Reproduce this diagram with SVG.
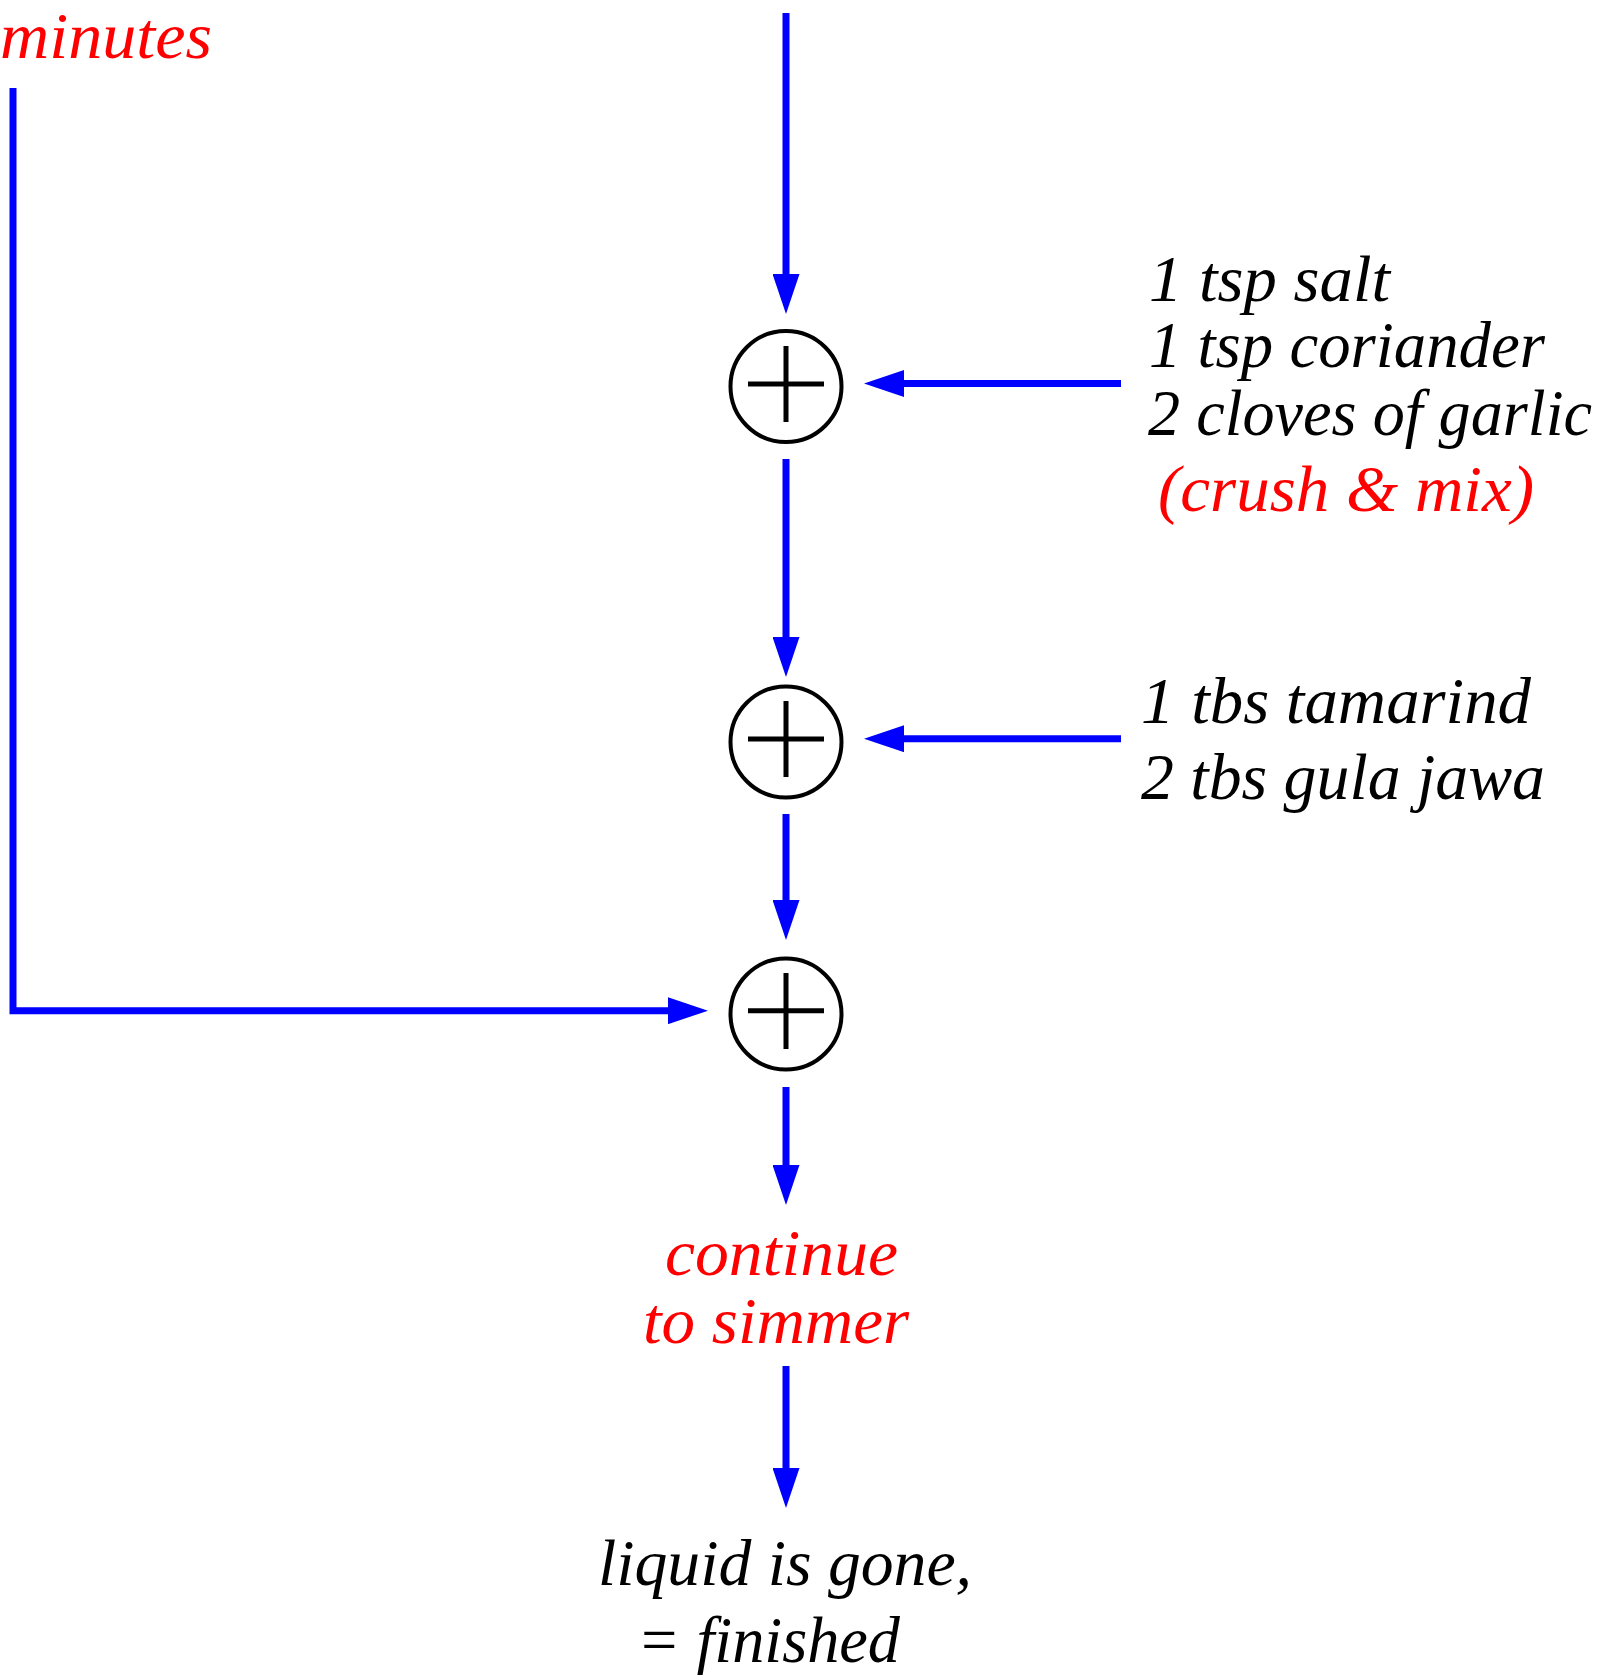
<svg xmlns="http://www.w3.org/2000/svg" width="1615" height="1675" viewBox="0 0 1615 1675">
<style>
.t{font-family:"Liberation Serif","Times New Roman",serif;font-style:italic;font-size:66px;fill:#000}
.r{fill:#ff0000}
.c{fill:none;stroke:#000;stroke-width:4}
.x{stroke:#000;stroke-width:5;fill:none}
.e{fill:none;stroke:#0000ff;stroke-width:7;stroke-linecap:butt;stroke-linejoin:miter}
</style>
<defs>
<marker id="ah" viewBox="0 0 40 27" refX="10" refY="13.5" markerWidth="40" markerHeight="27" markerUnits="userSpaceOnUse" orient="auto">
<path d="M0,0 L40,13.5 L0,27 z" fill="#0000ff"/>
</marker>
</defs>
<rect width="1615" height="1675" fill="#fff"/>
<g id="connectors">
<path class="e" d="M786,13 V284" marker-end="url(#ah)"/>
<path class="e" d="M786,459 V647" marker-end="url(#ah)"/>
<path class="e" d="M786,814 V910" marker-end="url(#ah)"/>
<path class="e" d="M786,1087 V1175" marker-end="url(#ah)"/>
<path class="e" d="M786,1366 V1478" marker-end="url(#ah)"/>
<path class="e" d="M1121,383.5 H894" marker-end="url(#ah)"/>
<path class="e" d="M1121,738.7 H894" marker-end="url(#ah)"/>
<path class="e" d="M13,88 V1010.7 H678" marker-end="url(#ah)"/>
</g>
<g id="sum1">
<circle class="c" cx="786" cy="386.5" r="55.5"/>
<path class="x" d="M748,384 H824 M786,346 V422"/>
</g>
<g id="sum2">
<circle class="c" cx="786" cy="742" r="55.5"/>
<path class="x" d="M748,739 H824 M786,701 V777"/>
</g>
<g id="sum3">
<circle class="c" cx="786" cy="1014" r="55.5"/>
<path class="x" d="M748,1010.7 H824 M786,973 V1049"/>
</g>
<g id="minutes">
<text class="t r" x="0" y="58" textLength="212" lengthAdjust="spacingAndGlyphs">minutes</text>
</g>
<g id="spices">
<text class="t" x="1149" y="301" textLength="241" lengthAdjust="spacingAndGlyphs">1 tsp salt</text>
<text class="t" x="1149" y="367" textLength="396" lengthAdjust="spacingAndGlyphs">1 tsp coriander</text>
<text class="t" x="1148" y="435" textLength="444" lengthAdjust="spacingAndGlyphs">2 cloves of garlic</text>
<text class="t r" x="1158" y="511" textLength="376" lengthAdjust="spacingAndGlyphs">(crush &amp; mix)</text>
</g>
<g id="sweet">
<text class="t" x="1141" y="723" textLength="390" lengthAdjust="spacingAndGlyphs">1 tbs tamarind</text>
<text class="t" x="1141" y="799" textLength="404" lengthAdjust="spacingAndGlyphs">2 tbs gula jawa</text>
</g>
<g id="simmer">
<text class="t r" x="665" y="1275" textLength="233" lengthAdjust="spacingAndGlyphs">continue</text>
<text class="t r" x="643" y="1343" textLength="266" lengthAdjust="spacingAndGlyphs">to simmer</text>
</g>
<g id="finished">
<text class="t" x="598" y="1585" textLength="374" lengthAdjust="spacingAndGlyphs">liquid is gone,</text>
<text class="t" x="637" y="1662" textLength="263" lengthAdjust="spacingAndGlyphs">= finished</text>
</g>
</svg>
